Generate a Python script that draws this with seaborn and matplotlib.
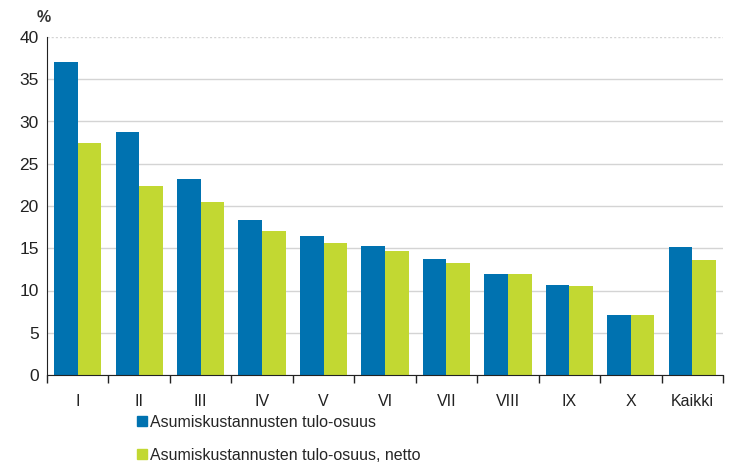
import matplotlib.pyplot as plt
import numpy as np
import pandas as pd
import seaborn as sns
from matplotlib.lines import Line2D

# =========================
# DATA
# =========================
categories = ["I", "II", "III", "IV", "V", "VI", "VII", "VIII", "IX", "X", "Kaikki"]
gross_share = [37.0, 28.8, 23.2, 18.3, 16.4, 15.3, 13.7, 12.0, 10.7, 7.1, 15.1]
net_share = [27.5, 22.4, 20.5, 17.0, 15.6, 14.7, 13.3, 12.0, 10.5, 7.1, 13.6]
series_names = ["Asumiskustannusten tulo-osuus", "Asumiskustannusten tulo-osuus, netto"]
colors = ["#0072b0", "#c2d832"]

df = pd.DataFrame({
    "cat": categories * 2,
    "value": gross_share + net_share,
    "series": [series_names[0]] * len(categories) + [series_names[1]] * len(categories),
})

# =========================
# PLOT
# =========================
sns.set_style("white")
plt.rcParams["font.family"] = ["Liberation Sans", "DejaVu Sans"]

fig = plt.figure(figsize=(7.46, 4.68), dpi=100)
ax = fig.add_axes([47 / 746, 1 - 375 / 468, (723 - 47) / 746, (375 - 37) / 468])

sns.barplot(data=df, x="cat", y="value", hue="series", palette=colors,
            width=0.77, gap=0, saturation=1, ax=ax, legend=False,
            edgecolor="none")

ax.set_ylim(0, 40)
ax.set_xlim(-0.5, len(categories) - 0.5)
ax.set_yticks(np.arange(0, 41, 5))
ax.yaxis.grid(True, color="#d4d4d4", linewidth=1)
# top gridline is dotted in the original
ax.get_ygridlines()[-1].set_linestyle((0, (1.5, 1.5)))
ax.set_axisbelow(True)
ax.set_xlabel("")
ax.set_ylabel("")

for side in ["top", "right"]:
    ax.spines[side].set_visible(False)
ax.spines["left"].set_color("#222222")
ax.spines["bottom"].set_color("#222222")

ax.tick_params(axis="y", length=0, labelsize=12.5, pad=6, labelcolor="#222222")
ax.tick_params(axis="x", which="major", length=0, labelsize=11.5, pad=14, labelcolor="#222222")
ax.set_xticks(np.arange(-0.5, len(categories), 1), minor=True)
ax.tick_params(axis="x", which="minor", bottom=True, length=6, width=1,
               direction="out", color="#222222")

fig.text(37 / 746, 1 - 18 / 468, "%", fontsize=11.5, fontweight="bold", color="#333333",
         ha="left", va="center")

handles = [Line2D([0], [0], marker="s", linestyle="", markersize=7,
                  markerfacecolor=c, markeredgecolor=c) for c in colors]
fig.legend(handles, series_names, loc="upper left", bbox_to_anchor=(134 / 746, 1 - 415 / 468),
           frameon=False, fontsize=11.5, handletextpad=0.0, labelspacing=1.1,
           handlelength=1.0, borderaxespad=0, borderpad=0)

plt.savefig("out.png", dpi=100)
plt.close()
